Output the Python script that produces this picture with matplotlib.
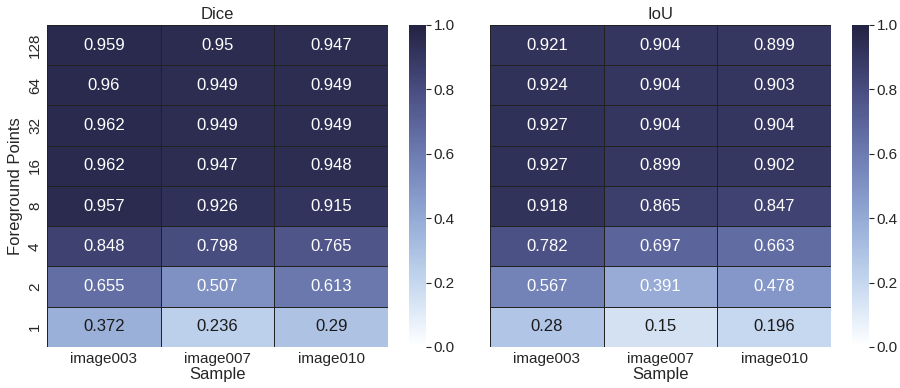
import numpy as np
import pandas as pd
import matplotlib
matplotlib.use("Agg")
import matplotlib.pyplot as plt
import seaborn as sns

samples = ["image003", "image007", "image010"]
points = [128, 64, 32, 16, 8, 4, 2, 1]

dice = [
    [0.959, 0.95, 0.947],
    [0.96, 0.949, 0.949],
    [0.962, 0.949, 0.949],
    [0.962, 0.947, 0.948],
    [0.957, 0.926, 0.915],
    [0.848, 0.798, 0.765],
    [0.655, 0.507, 0.613],
    [0.372, 0.236, 0.29],
]
iou = [
    [0.921, 0.904, 0.899],
    [0.924, 0.904, 0.903],
    [0.927, 0.904, 0.904],
    [0.927, 0.899, 0.902],
    [0.918, 0.865, 0.847],
    [0.782, 0.697, 0.663],
    [0.567, 0.391, 0.478],
    [0.28, 0.15, 0.196],
]

sns.set_theme(style="white", font="Liberation Sans")
plt.rcParams["font.family"] = ["Liberation Sans", "DejaVu Sans"]

cmap = sns.cubehelix_palette(start=0.04, rot=-0.11, hue=0.85, light=1, dark=.15,
                             as_cmap=True)
# cells below this value are light enough for dark annotation text
text_cut = 0.38

fig = plt.figure(figsize=(9, 3.88), dpi=100)
# heatmap + colorbar axes for each metric
heat_axes = [fig.add_axes([0.0522, 0.1057, 0.379, 0.830]),
             fig.add_axes([0.5444, 0.1057, 0.379, 0.830])]
cbar_axes = [fig.add_axes([0.4544, 0.1057, 0.0189, 0.830]),
             fig.add_axes([0.9467, 0.1057, 0.0189, 0.830])]

for ax, cax, vals, title in zip(heat_axes, cbar_axes, [dice, iou], ["Dice", "IoU"]):
    df = pd.DataFrame(vals, index=points, columns=samples)
    sns.heatmap(df, ax=ax, cbar_ax=cax, cmap=cmap, vmin=0, vmax=1, annot=False,
                linewidths=0.6, linecolor="#222222")
    # cell labels, drawn by hand so the text colour can follow the value
    for i in range(df.shape[0]):
        for j in range(df.shape[1]):
            v = df.iat[i, j]
            ax.text(j + 0.5, i + 0.5, f"{v:g}", ha="center", va="center",
                    fontsize=12, color="#1a1a1a" if v < text_cut else "white")
    ax.set_title(title, fontsize=12, pad=4)
    ax.set_xlabel("Sample", fontsize=12, labelpad=1)
    ax.tick_params(labelsize=11, length=0)
    ax.set_yticklabels(ax.get_yticklabels(), rotation=90, va="center")
    cax.tick_params(labelsize=11, length=3.5, width=0.8, color="#262626", pad=2)

heat_axes[0].set_ylabel("Foreground Points", fontsize=12)
heat_axes[1].set_ylabel("")
heat_axes[1].set_yticks([])

fig.savefig("out.png")
